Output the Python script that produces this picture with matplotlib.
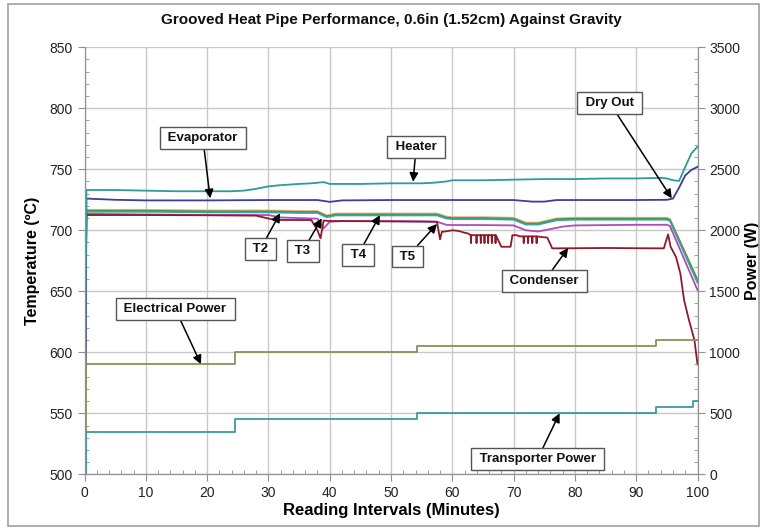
import matplotlib
matplotlib.use("Agg")
import matplotlib.pyplot as plt
from matplotlib.patches import Rectangle
from matplotlib.ticker import MultipleLocator

plt.rcParams['font.family'] = ['Liberation Sans', 'DejaVu Sans']

# ---------------- data ----------------
heater_t = [0, 0.3, 5, 10, 15, 20, 24, 26, 28, 30, 32, 35, 37, 39, 40, 45, 50, 55, 57, 59, 60,
            65, 70, 75, 80, 85, 90, 94, 95, 96, 97, 98, 99, 100]
heater_v = [500, 733, 733, 732.5, 732, 732, 732, 732.5, 734, 736, 737, 738, 738.5, 739.5, 738,
            738, 738.5, 738.5, 739, 740, 741, 741, 741.5, 742, 742, 742.5, 742.5, 743, 742.5,
            741, 740.5, 752, 763, 768.5]

evap_t = [0, 0.3, 5, 10, 20, 30, 38, 40, 42, 50, 60, 70, 73, 75, 77, 80, 90, 95, 96, 97, 98, 99, 100]
evap_v = [500, 726, 725, 724.5, 724.5, 724.8, 724.8, 723.3, 724.5, 724.8, 724.8, 724.8, 723.5,
          723.5, 724.8, 724.8, 724.8, 725, 726, 735, 745, 749.5, 752]

t2_t = [0, 0.3, 10, 20, 30, 35, 38, 39.5, 41, 50, 57.5, 59, 60, 65, 70, 72, 74, 77, 80, 90, 95,
        95.5, 100]
t2_v = [500, 716.8, 716.8, 716.3, 716.3, 715.8, 715.8, 712.3, 713.8, 713.8, 713.8, 711.3, 710.8,
        710.8, 710.3, 706.3, 706.3, 709.8, 710.3, 710.3, 710.3, 709.3, 660]

t3_t = t2_t
t3_v = [500, 716, 716, 715.5, 715.5, 715, 715, 711.5, 713, 713, 713, 710.5, 710, 710, 709.5,
        705.5, 705.5, 709, 709.5, 709.5, 709.5, 708.5, 659]

t4_t = t2_t
t4_v = [500, 715.2, 715.2, 714.7, 714.7, 714.2, 714.2, 710.7, 712.2, 712.2, 712.2, 709.7, 709.2,
        709.2, 708.7, 704.7, 704.7, 708.2, 708.7, 708.7, 708.7, 707.7, 657]

t5_t = [0, 0.3, 10, 20, 30, 32, 35, 38, 39, 40, 42, 50, 57.5, 59, 60, 65, 70, 72, 74, 76, 78, 80,
        90, 95, 95.5, 100]
t5_v = [500, 713.5, 713, 712.5, 712.5, 710.5, 710, 709.5, 701.5, 707, 707.5, 707.5, 707, 704.5,
        704.3, 704.3, 704, 700, 699, 701, 703, 704, 704.5, 704.5, 703.5, 651]

cond_t = [0, 0.3, 10, 20, 28, 31, 35, 37, 38, 38.5, 39, 40, 45, 50, 55, 57.5, 58, 58.3, 58.8,
          60, 61, 62, 62.5,
          63.0, 63.05, 63.1, 63.9, 63.95, 64.0, 64.6, 64.65, 64.7, 65.2, 65.25, 65.3,
          65.8, 65.85, 65.9, 66.4, 66.45, 66.5, 67.0, 67.05, 67.1,
          68, 69.5, 69.8, 70.5, 71,
          71.6, 71.65, 71.7, 72.3, 72.35, 72.4, 73.0, 73.05, 73.1, 73.7, 73.75, 73.8,
          74.5, 75.5, 76.3, 76.7, 80, 85, 90, 94.5, 95.2, 95.6, 96.5, 97.2, 97.8, 98.6,
          99.5, 100]
cond_v = [500, 712.5, 712.5, 712.3, 712, 708.5, 708.4, 708.4, 700, 693.4, 708, 707.6, 707.5,
          707.3, 707.2, 707, 692.6, 698.8, 699, 700, 699.5, 698, 697.5,
          696, 689.5, 696, 696, 689.5, 696, 696, 689.5, 696, 696, 689.5, 696,
          696, 689.5, 696, 696, 689.5, 696, 696, 689.5, 696,
          686.5, 686.5, 696, 696, 695,
          695, 689.5, 695, 695, 689.5, 695, 695, 689.5, 695, 695, 689.5, 695,
          694.5, 694, 685.2, 685.2, 685.3, 685.5, 685.3, 685.2, 696.7, 686.6, 678, 664.7, 643,
          626.5, 610, 590]

elec_t = [0, 0.2, 24.6, 54.2, 93.2, 100]
elec_w = [0, 900, 1000, 1050, 1100, 1100]

trans_t = [0, 0.2, 24.6, 54.2, 93.2, 99.3, 100]
trans_w = [0, 350, 450, 500, 550, 600, 600]

x_ticks = list(range(0, 101, 10))
temp_ticks = list(range(500, 851, 50))
power_ticks = list(range(0, 3501, 500))

# ---------------- figure ----------------
fig = plt.figure(figsize=(7.67, 5.29), dpi=100)
ax = fig.add_axes([0.1102, 0.1034, 0.9094 - 0.1102, 0.9106 - 0.1034])
ax2 = ax.twinx()

fig.patches.append(Rectangle((0.011, 0.006), 0.978, 0.986, transform=fig.transFigure,
                             fill=False, edgecolor='#a0a0a0', linewidth=1.2))

lw = 1.3
ax.plot(t2_t, t2_v, color='#e9b27a', lw=lw, zorder=3)
ax.plot(t3_t, t3_v, color='#4f8f3c', lw=lw, zorder=3)
ax.plot(t4_t, t4_v, color='#3aa3a6', lw=lw, zorder=3)
ax.plot(t5_t, t5_v, color='#b14bb8', lw=lw, zorder=3)
ax.plot(cond_t, cond_v, color='#8c1b2c', lw=lw, zorder=3)
ax.plot(evap_t, evap_v, color='#3d3d9e', lw=lw, zorder=3)
ax.plot(heater_t, heater_v, color='#2b9c98', lw=lw, zorder=3)

ax2.step(elec_t, elec_w, where='post', color='#8e8e58', lw=lw)
ax2.step(trans_t, trans_w, where='post', color='#3d97a4', lw=lw)

ax.set_xlim(0, 100)
ax.set_ylim(500, 850)
ax2.set_ylim(0, 3500)
ax.set_xticks(x_ticks)
ax.set_yticks(temp_ticks)
ax2.set_yticks(power_ticks)
ax.xaxis.set_minor_locator(MultipleLocator(2))
ax.yaxis.set_minor_locator(MultipleLocator(10))
ax2.yaxis.set_minor_locator(MultipleLocator(100))

ax.grid(True, which='major', color='#c8c8c8', lw=1.0, zorder=0)
ax.set_axisbelow(True)

for a in (ax, ax2):
    for s in a.spines.values():
        s.set_color('#909090')
    a.tick_params(which='major', direction='out', length=5, color='#909090',
                  labelsize=10, labelcolor='#222222')
    a.tick_params(which='minor', direction='in', length=3, color='#909090')
ax.spines['top'].set_visible(False)
ax2.spines['top'].set_visible(False)

ax.set_title('Grooved Heat Pipe Performance, 0.6in (1.52cm) Against Gravity',
             fontsize=11, fontweight='bold', pad=17, color='#111111')
ax.set_xlabel('Reading Intervals (Minutes)', fontsize=12, fontweight='bold', labelpad=2)
ax.set_ylabel('Temperature (ºC)', fontsize=11.5, fontweight='bold', labelpad=7)
ax2.set_ylabel('Power (W)', fontsize=11.5, fontweight='bold', labelpad=3)

box = dict(boxstyle='square,pad=0.35', fc='white', ec='#555555', lw=1.0)
arrow = dict(arrowstyle='-|>', color='black', lw=1.1, mutation_scale=13, shrinkA=0, shrinkB=0)

annots = [
    ('Evaporator', (20.5, 726.2), (19.3, 775.6)),
    ('Heater', (53.6, 739.8), (54.1, 768.3)),
    ('Dry Out', (95.8, 726.2), (85.7, 804.3)),
    ('T2', (31.9, 714.0), (28.7, 684.7)),
    ('T3', (38.7, 709.8), (35.6, 683.0)),
    ('T4', (48.2, 712.5), (44.6, 679.8)),
    ('T5', (57.5, 705.2), (52.7, 678.5)),
    ('Condenser', (78.9, 685.5), (75.0, 658.4)),
    ('Electrical Power', (19.0, 590.2), (14.8, 635.5)),
    ('Transporter Power', (77.5, 550.0), (73.9, 512.5)),
]
for txt, tip, pos in annots:
    ax.annotate(' ' + txt + ' ', xy=tip, xytext=pos, xycoords='data', textcoords='data',
                ha='center', va='center', fontsize=9.5, fontweight='bold', color='#111111',
                bbox=box, arrowprops=arrow, zorder=6)

fig.savefig('out.png', dpi=100)
